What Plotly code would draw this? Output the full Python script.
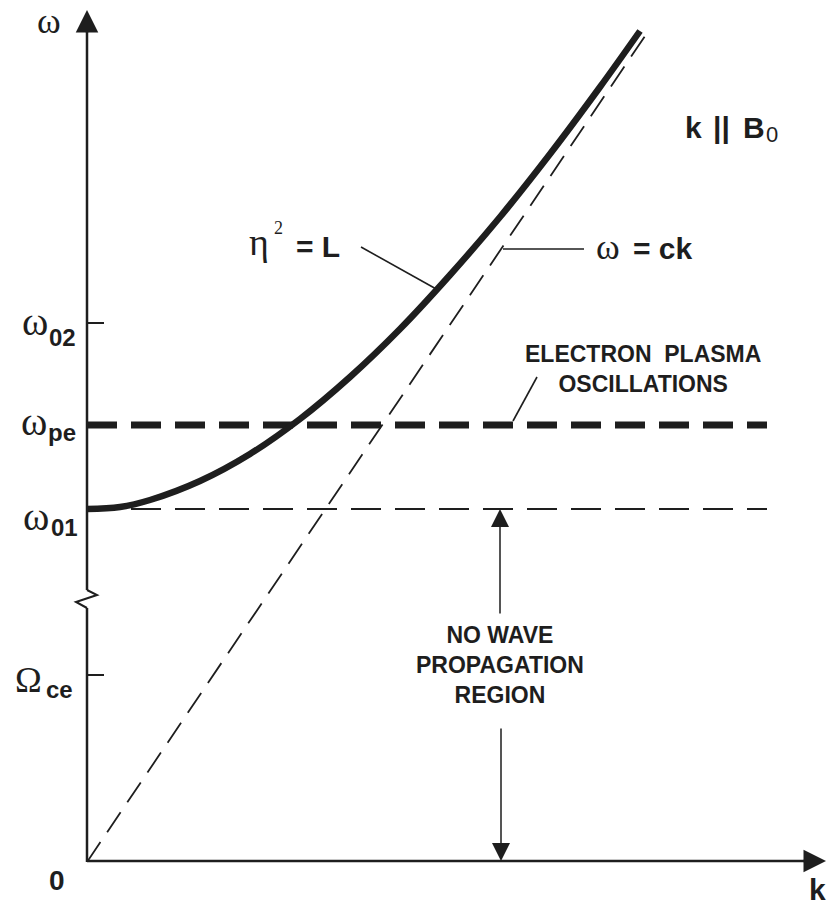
import plotly.graph_objects as go

# ---------------- data (arbitrary units) ----------------
# eta^2 = L branch (solid thick curve)
k_curve = [0.00, 0.33, 0.63, 1.13, 1.63, 2.13, 2.63, 3.13, 3.63, 4.13, 4.63,
           5.13, 5.53]
w_curve = [3.53, 3.55, 3.62, 3.81, 4.08, 4.43, 4.85, 5.33, 5.87, 6.45, 7.08,
           7.75, 8.31]
# light line omega = ck
k_light = [0.00, 5.58]
w_light = [0.00, 8.26]
# characteristic frequencies
w_02 = 5.39
w_pe = 4.37
w_01 = 3.53
W_ce = 1.87
k_level_end = 6.80          # extent of the horizontal level lines
k_noprop = 4.13             # position of the "no wave propagation" arrow
tick_vals = [w_02, W_ce]

X_RANGE = [0, 7.40]
Y_RANGE = [0, 8.52]

INK = "#1e1e1e"
SERIF = "Liberation Serif, Times New Roman, serif"
SANS = "Liberation Sans, Arial, sans-serif"

L, T, W, H = 87, 10, 740, 852     # plotting frame in page pixels
def PX(px):
    return (px - L) / W
def PY(py):
    return (T + H - py) / H

fig = go.Figure()

# omega = ck (thin dashed)
fig.add_trace(go.Scatter(x=k_light, y=w_light, mode="lines",
                         line=dict(color=INK, width=1.8, dash="24px,12px"),
                         hoverinfo="skip", showlegend=False))
# omega_01 level (thin dashed)
fig.add_trace(go.Scatter(x=[0, k_level_end], y=[w_01, w_01], mode="lines",
                         line=dict(color=INK, width=2, dash="30px,14px"),
                         hoverinfo="skip", showlegend=False))
# omega_pe level (thick dashed)
fig.add_trace(go.Scatter(x=[0, k_level_end], y=[w_pe, w_pe], mode="lines",
                         line=dict(color=INK, width=7, dash="30px,14px"),
                         hoverinfo="skip", showlegend=False))
# eta^2 = L curve
fig.add_trace(go.Scatter(x=k_curve, y=w_curve, mode="lines",
                         line=dict(color=INK, width=6.5, shape="spline"),
                         hoverinfo="skip", showlegend=False))

shapes = []
def pline(x0, y0, x1, y1, w=2.5):
    shapes.append(dict(type="line", xref="paper", yref="paper",
                       x0=PX(x0), y0=PY(y0), x1=PX(x1), y1=PY(y1),
                       line=dict(color=INK, width=w)))

# axes with break
pline(87, 861, 812, 861)
pline(87, 862, 87, 608)
pline(87, 590, 87, 28)
shapes.append(dict(type="path", xref="paper", yref="paper",
                   path="M{},{} L{},{} L{},{} L{},{}".format(
                       PX(87), PY(590), PX(97), PY(595), PX(76), PY(602), PX(87), PY(608)),
                   line=dict(color=INK, width=2)))

# leader lines (data coords)
def dline(x0, y0, x1, y1, w=1.6):
    shapes.append(dict(type="line", xref="x", yref="y", x0=x0, y0=y0, x1=x1, y1=y1,
                       line=dict(color=INK, width=w)))
dline(2.74, 6.15, 3.51, 5.72)       # eta^2 = L
dline(4.16, 6.13, 4.97, 6.13)       # omega = ck
dline(4.50, 4.85, 4.26, 4.41)       # electron plasma oscillations

ann = []
# axis arrowheads
ann.append(dict(xref="paper", yref="paper", x=PX(87), y=PY(10), ax=0, ay=24,
                text="", showarrow=True, arrowhead=2, arrowsize=1.8, arrowwidth=2.5,
                arrowcolor=INK))
ann.append(dict(xref="paper", yref="paper", x=PX(826), y=PY(861), ax=-24, ay=0,
                text="", showarrow=True, arrowhead=2, arrowsize=1.8, arrowwidth=2.5,
                arrowcolor=INK))
# no-propagation double arrow
ann.append(dict(xref="x", yref="y", axref="x", ayref="y", x=k_noprop, y=w_01,
                ax=k_noprop, ay=2.47, text="", showarrow=True, arrowhead=2,
                arrowsize=2.4, arrowwidth=1.5, arrowcolor=INK))
ann.append(dict(xref="x", yref="y", axref="x", ayref="y", x=k_noprop + 0.01, y=0.01,
                ax=k_noprop + 0.01, ay=1.35, text="", showarrow=True, arrowhead=2,
                arrowsize=2.4, arrowwidth=1.5, arrowcolor=INK))

def txt(s, px, py, size, family=SANS, xa="center", ya="middle", bold=False):
    ann.append(dict(xref="paper", yref="paper", x=PX(px), y=PY(py),
                    text=("<b>%s</b>" % s) if bold else s,
                    showarrow=False, xanchor=xa, yanchor=ya,
                    font=dict(family=family, size=size, color=INK)))

# axis labels
txt("ω", 49, 21, 36, SERIF)
txt("0", 57, 880, 28, bold=True)
txt("k", 817, 889, 30, bold=True)

# frequency labels on the omega axis
txt("ω", 50, 321, 40, SERIF, xa="right")
txt("02", 47, 337, 24, xa="left", bold=True)
txt("ω", 49, 421, 40, SERIF, xa="right")
txt("pe", 46, 432, 24, xa="left", bold=True)
txt("ω", 51, 516, 40, SERIF, xa="right")
txt("01", 49, 527, 24, xa="left", bold=True)
txt("Ω", 44, 680, 36, SERIF, xa="right")
txt("ce", 44, 689, 24, xa="left", bold=True)

# curve labels
txt("η", 271, 242, 38, SERIF, xa="right")
txt("2", 272, 228, 18, SERIF, xa="left")
txt("= L", 294, 247, 30, xa="left", bold=True)
txt("ω", 594, 247, 36, SERIF, xa="left")
txt("= ck", 631, 248, 30, xa="left", bold=True)
txt("k", 683, 127, 30, xa="left", bold=True)
txt("||", 721, 127, 30, bold=True)
txt("B", 741, 127, 30, xa="left", bold=True)
txt("0", 764, 134, 22, xa="left")

txt("ELECTRON  PLASMA<br>OSCILLATIONS", 643, 369, 23, bold=True)
txt("NO WAVE<br>PROPAGATION<br>REGION", 500, 665, 23, bold=True)

fig.update_layout(
    width=827, height=906,
    margin=dict(l=L, r=827 - L - W, t=T, b=906 - T - H, pad=0),
    paper_bgcolor="white", plot_bgcolor="white",
    xaxis=dict(range=X_RANGE, showgrid=False, zeroline=False, showline=False,
               showticklabels=False, ticks="", fixedrange=True),
    yaxis=dict(range=Y_RANGE, showgrid=False, zeroline=False, showline=False,
               showticklabels=False, tickmode="array", tickvals=tick_vals,
               ticks="inside", ticklen=17, tickwidth=2.5, tickcolor=INK,
               fixedrange=True),
    shapes=shapes, annotations=ann, showlegend=False,
)

# remove the default 8px page margin so the figure fills the window exactly
fig.write_html("out.html",
               config={"displayModeBar": False, "staticPlot": True},
               post_script="document.body.style.margin='0px';"
                           "document.body.style.overflow='hidden';")
